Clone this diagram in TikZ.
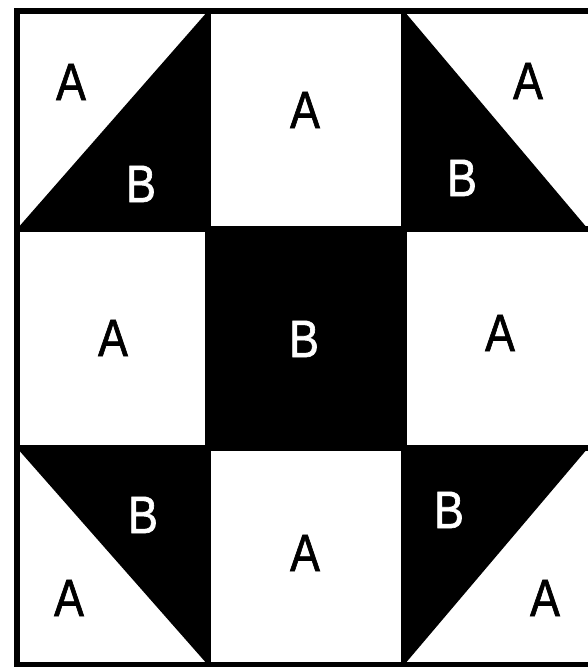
\documentclass[tikz,border=0pt]{standalone}
\usepackage{fontspec}
\setmainfont[FakeStretch=0.85,FakeBold=1.2]{Liberation Sans}
\begin{document}
\begin{tikzpicture}[x=1bp,y=-1bp,
  lab/.style={inner sep=0pt,font=\fontsize{53}{53}\selectfont},
  labA/.style={lab,text=black},
  labB/.style={lab,text=white},
  grid/.style={line width=5.5bp,line cap=rect},
  border/.style={line width=6bp,line cap=rect}]
\useasboundingbox (0,0) rectangle (588,667);
\fill[white] (0,0) rectangle (588,667);
% black pieces
\fill[black] (17,229) -- (208,229) -- (208,11) -- cycle;
\fill[black] (404,11) -- (404,229) -- (588,229) -- cycle;
\fill[black] (17,448) -- (208,448) -- (208,665) -- cycle;
\fill[black] (404,448) -- (588,448) -- (404,665) -- cycle;
\fill[black] (208,229) rectangle (404,448);
% grid lines
\draw[grid] (208,11) -- (208,665);
\draw[grid] (404,11) -- (404,665);
\draw[grid] (17,229) -- (588,229);
\draw[grid] (17,448) -- (588,448);
% border
\draw[border] (588,11) -- (17,11) -- (17,665) -- (588,665);
% labels
\node[labA] (a1) at (71,82) {A};
\node[labB] (b1) at (141,184) {B};
\node[labA] (a2) at (305,110) {A};
\node[labA] (a3) at (528,81) {A};
\node[labB] (b3) at (462,178) {B};
\node[labA] (a4) at (113,338) {A};
\node[labB] (b5) at (304,339) {B};
\node[labA] (a6) at (500,333) {A};
\node[labB] (b7) at (143,515) {B};
\node[labA] (a7) at (69,598) {A};
\node[labA] (a8) at (305,553) {A};
\node[labB] (b9) at (449,510) {B};
\node[labA] (a9) at (545,598) {A};
\end{tikzpicture}
\end{document}
